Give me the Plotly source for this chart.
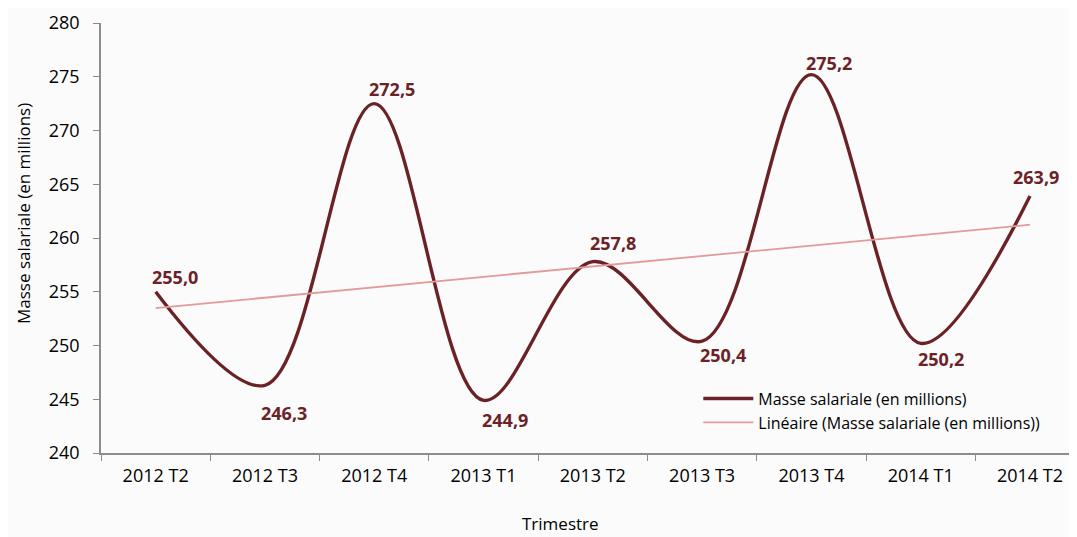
import numpy as np
import plotly.graph_objects as go

categories = ["2012 T2", "2012 T3", "2012 T4", "2013 T1", "2013 T2",
              "2013 T3", "2013 T4", "2014 T1", "2014 T2"]
values = [255.0, 246.3, 272.5, 244.9, 257.8, 250.4, 275.2, 250.2, 263.9]
y_ticks = [240, 245, 250, 255, 260, 265, 270, 275, 280]

# label offsets (pixels) - style only
label_shift = [(19, 15), (19, -28), (18, 15), (21, -20), (20, 19),
               (21, -14), (18, 12), (20, -16), (6, 19)]

xi = np.arange(len(values))
slope, intercept = np.polyfit(xi, values, 1)
trend = slope * xi + intercept

FONT = "Open Sans"
DARK = "#6B2226"
PINK = "#E39A9A"

fig = go.Figure()
fig.add_trace(go.Scatter(
    x=categories, y=values, mode="lines", name="Masse salariale (en millions)",
    line=dict(color=DARK, width=3.4, shape="spline", smoothing=1.0)))
fig.add_trace(go.Scatter(
    x=categories, y=trend, mode="lines",
    name="Linéaire (Masse salariale (en millions))",
    line=dict(color=PINK, width=1.8)))

for c, v, (dx, dy) in zip(categories, values, label_shift):
    fig.add_annotation(x=c, y=v, text=f"<b>{v:.1f}</b>".replace(".", ","),
                       showarrow=False, xshift=dx, yshift=dy,
                       font=dict(family=FONT, size=18, color=DARK))

# axis titles as annotations
fig.add_annotation(xref="paper", yref="paper", x=-0.080, y=0.558,
                   text="Masse salariale (en millions)", textangle=-90,
                   showarrow=False, xanchor="center", yanchor="middle",
                   font=dict(family=FONT, size=17, color="#000000"))
fig.add_annotation(xref="paper", yref="paper", x=0.471, y=-0.164,
                   text="Trimestre", showarrow=False,
                   xanchor="center", yanchor="middle",
                   font=dict(family=FONT, size=17, color="#000000"))

fig.update_layout(
    width=1069, height=529,
    margin=dict(l=93, r=0, t=15, b=84),
    paper_bgcolor="#FBFBFB", plot_bgcolor="#FBFBFB",
    font=dict(family=FONT, size=16, color="#000000"),
    showlegend=True,
    legend=dict(x=0.612, y=0.166, xanchor="left", yanchor="top",
                bgcolor="rgba(0,0,0,0)", font=dict(family=FONT, size=16),
                itemwidth=50, tracegroupgap=0),
)
fig.update_xaxes(
    type="category", range=[-0.5, 8.43],
    showline=True, linecolor="#8C8C8C", linewidth=1.5,
    ticks="outside", tickson="boundaries", ticklen=6, tickcolor="#8C8C8C",
    showgrid=False, tickfont=dict(size=18), ticklabelstandoff=6,
)
fig.update_yaxes(
    range=[240, 280], tickvals=y_ticks,
    showline=True, linecolor="#8C8C8C", linewidth=1.5,
    ticks="outside", ticklen=6, tickcolor="#8C8C8C",
    showgrid=False, zeroline=False, tickfont=dict(size=18), ticklabelstandoff=10,
)

fig.write_html("out.html")
